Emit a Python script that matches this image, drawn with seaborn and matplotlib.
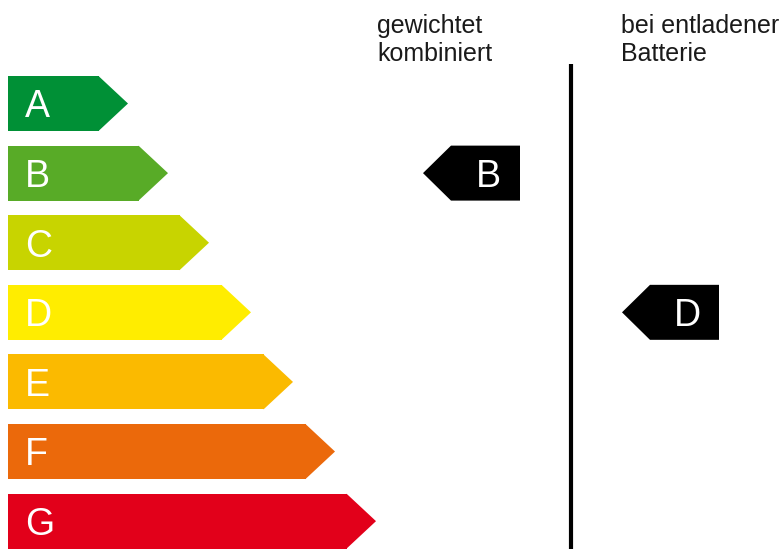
import matplotlib.pyplot as plt
import seaborn as sns
import pandas as pd

# efficiency classes and the length of each coloured bar body (px from left edge)
classes = ["A", "B", "C", "D", "E", "F", "G"]
body_len = [91, 131, 172, 214, 256, 298, 339]
colors = ["#009036", "#58AB27", "#C8D400", "#FFED00", "#FBBA00", "#EB690B", "#E2001A"]

# the two ratings shown on the right
columns = ["gewichtet\nkombiniert", "bei entladener\nBatterie"]
ratings = ["B", "D"]

sns.set_style("white")
plt.rcParams["font.family"] = ["Liberation Sans", "DejaVu Sans"]

fig = plt.figure(figsize=(7.84, 5.49), dpi=100)
ax = fig.add_axes([0, 0, 1, 1])

df = pd.DataFrame({"cls": classes, "len": body_len})
sns.barplot(data=df, x="len", y="cls", hue="cls", palette=colors, legend=False,
            width=0.79, saturation=1, ax=ax, linewidth=0)

half = 0.79 / 2
tip = 29
for i, (c, L, col) in enumerate(zip(classes, body_len, colors)):
    ax.fill([L - 0.5, L + tip, L - 0.5], [i - half, i, i + half], color=col, lw=0)
    ax.text(17, i + 0.2, c, color="white", fontsize=27, ha="left", va="baseline")

# rating arrows
col_tip = [415, 614]
col_text_x = [369, 613]
box_w = 97
for tx, lab, r, hx in zip(col_tip, columns, ratings, col_text_x):
    i = classes.index(r)
    ax.fill([tx, tx + 28, tx + box_w, tx + box_w, tx + 28],
            [i, i - half, i - half, i + half, i + half], color="black", lw=0)
    ax.text(tx + 65, i + 0.2, r, color="white", fontsize=27, ha="center", va="baseline")
    ax.text(hx, -1.28, lab, color="#1a1a1a", fontsize=18, ha="left", va="top",
            linespacing=1.2)

ax.plot([563, 563], [-0.567, 6.5], color="black", lw=3, solid_capstyle="butt")

ax.set_xlim(-8, 776)
ax.set_ylim(6.40, -1.487)
ax.axis("off")

fig.savefig("out.png", dpi=100)
